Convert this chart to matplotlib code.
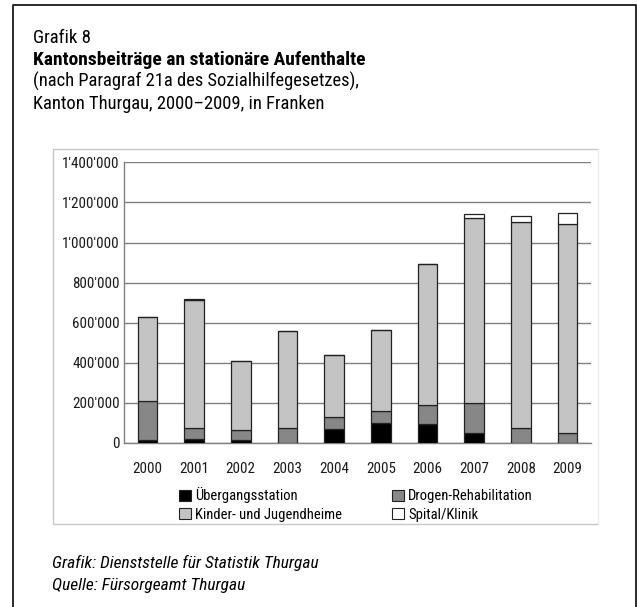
import matplotlib
matplotlib.use('Agg')
import matplotlib.pyplot as plt
from matplotlib.patches import Patch
from matplotlib.lines import Line2D
import numpy as np

plt.rcParams['font.family'] = ['Roboto Condensed', 'Archivo Narrow', 'DejaVu Sans']

# Data (Franken)
years = ['2000', '2001', '2002', '2003', '2004', '2005', '2006', '2007', '2008', '2009']
uebergang = [16000, 18000, 13000, 0, 69000, 101000, 93000, 51000, 0, 0]
drogen = [194000, 58000, 53000, 76000, 62000, 61000, 97000, 149000, 73000, 50000]
kinder = [418000, 636000, 344000, 484000, 309000, 401000, 703000, 921000, 1030000, 1045000]
spital = [0, 6000, 0, 0, 0, 0, 0, 20000, 32000, 53000]

series = [
    ('Übergangsstation', uebergang, '#000000'),
    ('Drogen-Rehabilitation', drogen, '#878787'),
    ('Kinder- und Jugendheime', kinder, '#c4c4c4'),
    ('Spital/Klinik', spital, '#ffffff'),
]

W, H = 637, 607
fig = plt.figure(figsize=(W / 100, H / 100), dpi=100)


def fx(px):
    return px / W


def fy(py):
    return 1 - py / H


# outer frame (open at bottom)
fig.add_artist(Line2D([fx(13), fx(13), fx(636), fx(636)], [0, fy(5), fy(5), 0],
                      color='#1a1a1a', lw=1.3))
# inner chart box
fig.add_artist(Line2D([fx(598), fx(53), fx(53), fx(598)], [fy(149), fy(149), fy(524), fy(524)],
                      color='#c8c8c8', lw=1.0))
fig.add_artist(Line2D([fx(598), fx(598)], [fy(149), fy(524)], color='#ececec', lw=1.0))

# titles
fig.text(fx(33), fy(43), 'Grafik 8', fontsize=13.5, va='baseline')
fig.text(fx(33), fy(65), 'Kantonsbeiträge an stationäre Aufenthalte', fontsize=14,
         fontweight='bold', va='baseline')
fig.text(fx(33), fy(87), '(nach Paragraf 21a des Sozialhilfegesetzes),', fontsize=13.3, va='baseline')
fig.text(fx(33), fy(109), 'Kanton Thurgau, 2000–2009, in Franken', fontsize=13.3, va='baseline')

# footer
fig.text(fx(52), fy(568), 'Grafik: Dienststelle für Statistik Thurgau', fontsize=12.5,
         style='italic', va='baseline')
fig.text(fx(52), fy(590), 'Quelle: Fürsorgeamt Thurgau', fontsize=12.5,
         style='italic', va='baseline')

ax = fig.add_axes([fx(124), fy(443), fx(591) - fx(124), (443 - 162) / H])
x = np.arange(len(years))
bottom = np.zeros(len(years))
for label, vals, col in series:
    vals = np.array(vals, dtype=float)
    ax.bar(x, vals, bottom=bottom, width=0.42, color=col, edgecolor='#222222',
           linewidth=0.9, label=label, zorder=3)
    bottom += vals

ax.set_xlim(-0.5, len(years) - 0.5)
ax.set_ylim(0, 1402000)
ax.set_yticks(np.arange(0, 1400001, 200000))
ax.set_yticklabels(["0" if v == 0 else f"{v:,}".replace(',', "'") for v in range(0, 1400001, 200000)])
ax.set_xticks(x)
ax.set_xticklabels(years)
ax.tick_params(axis='both', length=0, labelsize=10.8, colors='#1a1a1a')
ax.tick_params(axis='y', pad=3)
ax.tick_params(axis='x', pad=14)
ax.yaxis.grid(True, color='#808080', linewidth=1.0, zorder=0)
ax.set_axisbelow(True)
for s in ['top', 'right']:
    ax.spines[s].set_visible(False)
for s in ['left', 'bottom']:
    ax.spines[s].set_color('#808080')
    ax.spines[s].set_linewidth(1.0)

# legend filled row by row: reorder for matplotlib's column-wise filling
handles = [Patch(facecolor=c, edgecolor='#222222', linewidth=0.8, label=l) for l, _, c in series]
handles = [handles[0], handles[2], handles[1], handles[3]]
fig.legend(handles=handles, ncol=2, loc='upper left', bbox_to_anchor=(fx(172), fy(480)),
           frameon=False, fontsize=10.5, handlelength=0.8, handleheight=0.8,
           handletextpad=0.3, columnspacing=3.4, labelspacing=0.3, borderpad=0)

fig.savefig('out.png', dpi=100)
